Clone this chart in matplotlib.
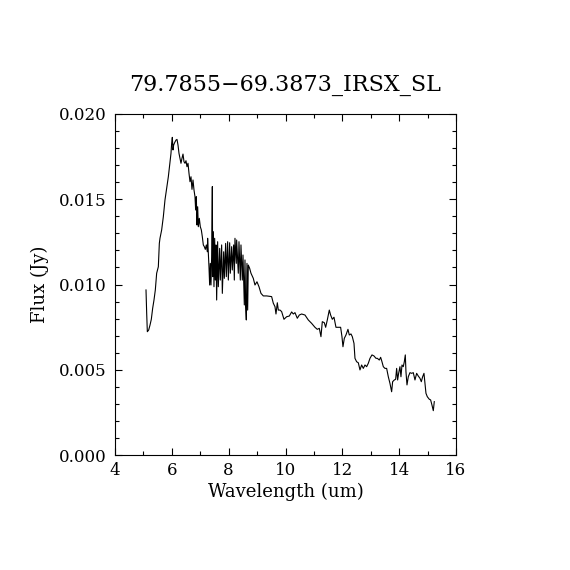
import matplotlib
matplotlib.use("Agg")
import matplotlib.pyplot as plt
from matplotlib.ticker import MultipleLocator

title = "79.7855\u221269.3873_IRSX_SL"
xlabel = "Wavelength (um)"
ylabel = "Flux (Jy)"

wavelength = [
    5.091, 5.115, 5.138, 5.185, 5.232, 5.278, 5.325, 5.372, 5.419, 5.466,
    5.525, 5.560, 5.583, 5.642, 5.701, 5.759, 5.818, 5.877, 5.935, 5.970,
    5.994, 6.017, 6.041, 6.064, 6.099, 6.146, 6.182, 6.217, 6.252, 6.287,
    6.322, 6.357, 6.393, 6.428, 6.463, 6.498, 6.533, 6.569, 6.604, 6.639,
    6.674, 6.709, 6.745, 6.780, 6.815, 6.838, 6.862, 6.885, 6.909, 6.932,
    6.967, 7.002, 7.038, 7.073, 7.108, 7.143, 7.178, 7.214, 7.249, 7.260,
    7.284, 7.307, 7.331, 7.354, 7.378, 7.401,
    7.425, 7.437, 7.460, 7.483, 7.507, 7.530, 7.554, 7.577, 7.612, 7.636,
    7.683, 7.706, 7.753, 7.777, 7.824, 7.847, 7.894, 7.917, 7.964, 7.988,
    8.035, 8.058, 8.105, 8.128, 8.175, 8.199, 8.222, 8.269, 8.281, 8.339,
    8.363, 8.410, 8.433, 8.480, 8.504, 8.551, 8.574, 8.598, 8.621, 8.644,
    8.668, 8.691, 8.738, 8.785, 8.867, 8.926, 8.996, 9.067, 9.137, 9.219,
    9.337, 9.512, 9.571, 9.630, 9.665, 9.712, 9.747, 9.806, 9.864, 9.946,
    10.040, 10.134, 10.216, 10.275, 10.333, 10.415, 10.486, 10.568, 10.685, 10.802,
    10.920, 11.037, 11.119, 11.190, 11.248, 11.295, 11.366, 11.413, 11.471, 11.541,
    11.588, 11.647, 11.706, 11.776, 11.858, 11.940, 11.987, 12.022, 12.069, 12.128,
    12.198, 12.245, 12.304, 12.351, 12.410, 12.445, 12.503, 12.562, 12.621, 12.679,
    12.738, 12.797, 12.855, 12.914, 12.973, 13.043, 13.113, 13.184, 13.231, 13.301,
    13.348, 13.395, 13.442, 13.500, 13.559, 13.618, 13.676, 13.735, 13.770, 13.829,
    13.876, 13.911, 13.946, 13.981, 14.028, 14.063, 14.099, 14.145, 14.181, 14.216,
    14.239, 14.275, 14.321, 14.380, 14.439, 14.497, 14.556, 14.615, 14.673, 14.732,
    14.779, 14.826, 14.873, 14.908, 14.943, 14.990, 15.060, 15.107, 15.154, 15.201,
    15.236,
]

flux = [
    0.00968, 0.00831, 0.00723, 0.00733, 0.00762, 0.00796, 0.00860, 0.00909, 0.00968, 0.01066,
    0.01104, 0.01241, 0.01271, 0.01320, 0.01398, 0.01496, 0.01564, 0.01632, 0.01720, 0.01769,
    0.01828, 0.01863, 0.01789, 0.01818, 0.01832, 0.01847, 0.01851, 0.01818, 0.01769, 0.01740,
    0.01711, 0.01740, 0.01765, 0.01720, 0.01711, 0.01726, 0.01691, 0.01711, 0.01652, 0.01603,
    0.01632, 0.01558, 0.01613, 0.01554, 0.01515, 0.01437, 0.01515, 0.01349, 0.01456, 0.01339,
    0.01388, 0.01339, 0.01320, 0.01280, 0.01232, 0.01222, 0.01206, 0.01232, 0.01192, 0.01271,
    0.01192, 0.01104, 0.00997, 0.01124, 0.00997, 0.01163,
    0.01574, 0.01046, 0.01310, 0.00987, 0.01271, 0.01026, 0.01232, 0.00909, 0.01251, 0.00987,
    0.01212, 0.01026, 0.01232, 0.00948, 0.01192, 0.01036, 0.01241, 0.01046, 0.01251, 0.01026,
    0.01245, 0.01066, 0.01222, 0.01085, 0.01232, 0.01026, 0.01271, 0.01124, 0.01261, 0.01066,
    0.01251, 0.01026, 0.01232, 0.01026, 0.01173, 0.00880, 0.01144, 0.00870, 0.00792, 0.01124,
    0.00850, 0.01114, 0.01095, 0.01066, 0.01036, 0.00997, 0.01016, 0.00987, 0.00948, 0.00933,
    0.00933, 0.00929, 0.00890, 0.00870, 0.00827, 0.00893, 0.00850, 0.00850, 0.00841, 0.00796,
    0.00811, 0.00815, 0.00839, 0.00827, 0.00835, 0.00802, 0.00821, 0.00827, 0.00821, 0.00792,
    0.00772, 0.00749, 0.00737, 0.00743, 0.00694, 0.00782, 0.00776, 0.00749, 0.00792, 0.00850,
    0.00821, 0.00796, 0.00808, 0.00749, 0.00749, 0.00749, 0.00694, 0.00635, 0.00684, 0.00704,
    0.00737, 0.00704, 0.00710, 0.00694, 0.00655, 0.00567, 0.00547, 0.00541, 0.00499, 0.00528,
    0.00508, 0.00528, 0.00518, 0.00538, 0.00567, 0.00587, 0.00581, 0.00567, 0.00567, 0.00557,
    0.00573, 0.00547, 0.00518, 0.00508, 0.00508, 0.00459, 0.00420, 0.00371, 0.00430, 0.00440,
    0.00444, 0.00508, 0.00440, 0.00479, 0.00518, 0.00459, 0.00528, 0.00518, 0.00547, 0.00587,
    0.00489, 0.00411, 0.00459, 0.00483, 0.00479, 0.00483, 0.00440, 0.00479, 0.00463, 0.00450,
    0.00430, 0.00459, 0.00479, 0.00420, 0.00362, 0.00342, 0.00327, 0.00323, 0.00293, 0.00260,
    0.00313,
]

xticks = [4, 6, 8, 10, 12, 14, 16]
yticks = [0.000, 0.005, 0.010, 0.015, 0.020]
ytick_labels = ["0.000", "0.005", "0.010", "0.015", "0.020"]

plt.rcParams['font.family'] = ['DejaVu Serif']

fig = plt.figure(figsize=(5.7, 5.7), dpi=100)
fig.patch.set_facecolor('white')
ax = fig.add_axes([115/570, 1 - 455/570, 341/570, 341/570])

ax.plot(wavelength, flux, color='black', lw=0.8)

ax.set_xlim(4, 16)
ax.set_ylim(0, 0.020)
ax.set_xticks(xticks)
ax.set_xticklabels([str(t) for t in xticks])
ax.set_yticks(yticks)
ax.set_yticklabels(ytick_labels)
ax.xaxis.set_minor_locator(MultipleLocator(1))
ax.yaxis.set_minor_locator(MultipleLocator(0.001))

ax.tick_params(which='both', direction='in', top=True, right=True,
               width=0.8, colors='black', labelsize=12)
ax.tick_params(which='major', length=5)
ax.tick_params(axis='x', which='major', pad=5)
ax.tick_params(axis='y', which='major', pad=6)
ax.tick_params(which='minor', length=3)
for s in ax.spines.values():
    s.set_linewidth(0.8)

ax.set_title(title, fontsize=16, pad=17)
ax.set_xlabel(xlabel, fontsize=13, labelpad=3)
ax.set_ylabel(ylabel, fontsize=13, labelpad=7)

fig.savefig("out.png", dpi=100, facecolor='white')
